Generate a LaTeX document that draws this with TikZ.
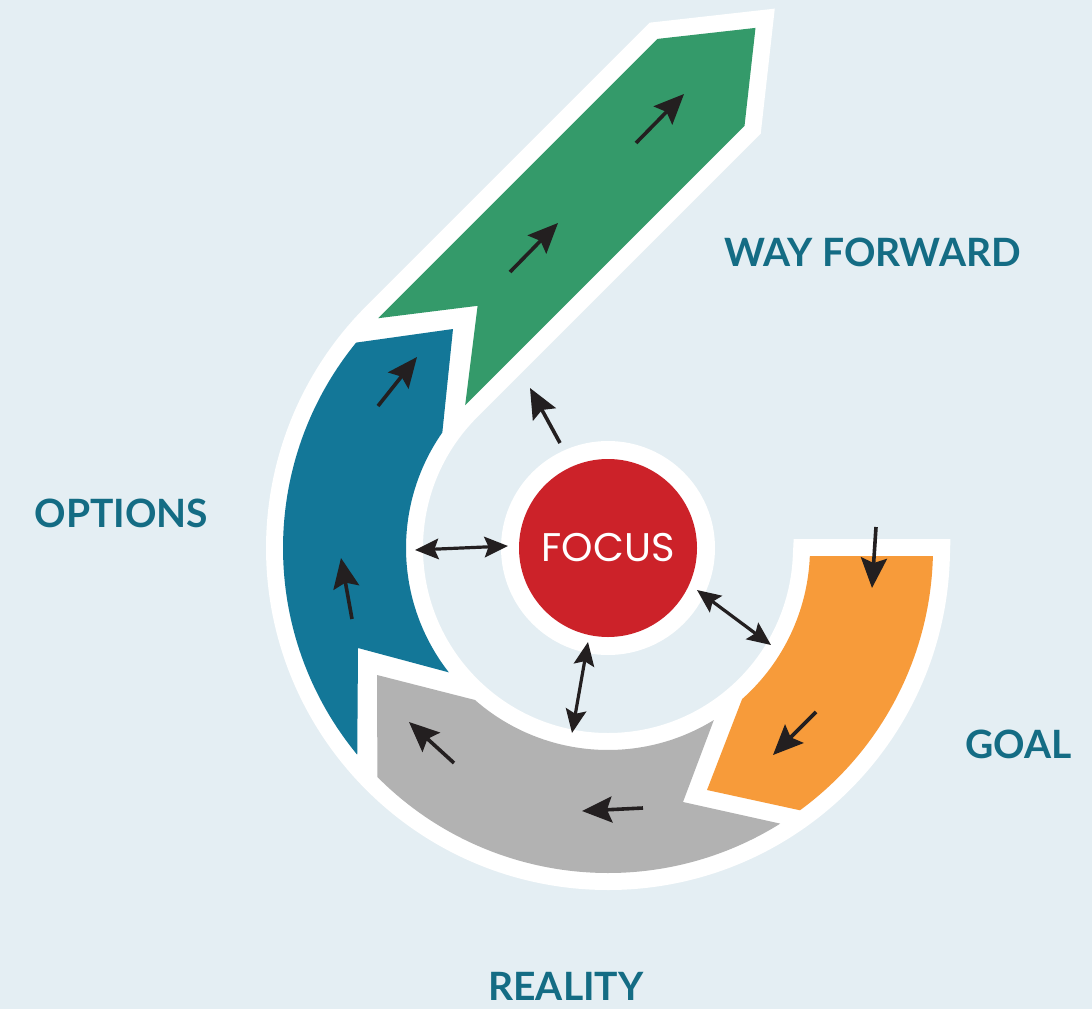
\documentclass[tikz,border=0pt]{standalone}
\usepackage{fontspec}
\setmainfont{Lato}
\newfontfamily\focusfont{Poppins}
\usetikzlibrary{arrows.meta}
\definecolor{bg}{RGB}{228,238,243}
\definecolor{cgreen}{RGB}{52,154,106}
\definecolor{cblue}{RGB}{19,119,152}
\definecolor{corange}{RGB}{247,155,58}
\definecolor{cgray}{RGB}{178,178,178}
\definecolor{cred}{RGB}{204,34,41}
\definecolor{cteal}{RGB}{20,108,132}
\definecolor{carrow}{RGB}{35,31,32}
\tikzset{
  bigtip/.tip={Stealth[length=30pt,width=26pt,inset=5pt]},
  smalltip/.tip={Stealth[length=23.5pt,width=20.5pt,inset=4pt]},
}
\begin{document}
\begin{tikzpicture}[x=1pt,y=1pt,yscale=-1,
  arr/.style={draw=carrow, line width=3.6pt, -bigtip},
  darr/.style={draw=carrow, line width=3.2pt, smalltip-smalltip},
  lbl/.style={text=cteal, font=\bfseries\fontsize{39}{39}\selectfont, anchor=base, inner sep=0pt}]
\fill[bg] (0,0) rectangle (1092,1009);
\useasboundingbox (0,0) rectangle (1092,1009);
\begin{scope}[shift={(608,548)}]
 \path[fill=white, draw=white, line width=34pt, line join=miter]
   (324.9,8) arc[start angle=1.41,end angle=225,radius=325]
   -- (49.5,-509.1) -- (147.5,-520.1) -- (136.5,-422.1) -- (225:202)
   arc[start angle=225,end angle=2.27,radius=202] -- cycle;
 \fill[corange] (201.8,8) -- (324.9,8) arc[start angle=1.41,end angle=53.8,radius=325]
   -- (99,242) -- (48.4:202) arc[start angle=48.4,end angle=2.27,radius=202] -- cycle;
 \fill[cgray] (58:325) arc[start angle=58,end angle=135.2,radius=325]
   -- (-231,127) -- (131.2:202) arc[start angle=131.2,end angle=58.4,radius=202]
   -- (75,254) -- cycle;
 \fill[cblue] (140.5:325) arc[start angle=140.5,end angle=219.2,radius=325]
   -- (-155,-219) -- (214.9:202) arc[start angle=214.9,end angle=142,radius=202]
   -- (-250,100) -- cycle;
 \fill[cgreen] (225:325) -- (49.5,-509.1) -- (147.5,-520.1) -- (136.5,-422.1)
   -- (225:202) -- (-130.4,-242.2) -- cycle;
 \fill[white] (0,0) circle[radius=107];
\end{scope}
\node[circle, fill=cred, minimum size=178pt, inner sep=0pt, text=white,
  font=\focusfont\fontsize{40}{40}\selectfont] (focus) at (608,548) {FOCUS};
% arrow end points
\coordinate (g1s) at (636,143); \coordinate (g1e) at (684,94);
\coordinate (g2s) at (510,272); \coordinate (g2e) at (558,223);
\coordinate (b1s) at (378,406); \coordinate (b1e) at (417,357);
\coordinate (b2s) at (352,619); \coordinate (b2e) at (341,558);
\coordinate (r1s) at (454,763); \coordinate (r1e) at (409,722);
\coordinate (r2s) at (643,808); \coordinate (r2e) at (582,811);
\coordinate (o1s) at (876,527); \coordinate (o1e) at (872,588);
\coordinate (o2s) at (816,712); \coordinate (o2e) at (773,755);
\coordinate (f1s) at (560,443); \coordinate (f1e) at (530,388);
\coordinate (d1a) at (415,550); \coordinate (d1b) at (508,546);
\coordinate (d2a) at (697,590); \coordinate (d2b) at (771,645);
\coordinate (d3a) at (588,642); \coordinate (d3b) at (572,733);
\draw[arr] (g1s) -- (g1e);
\draw[arr] (g2s) -- (g2e);
\draw[arr] (b1s) -- (b1e);
\draw[arr] (b2s) -- (b2e);
\draw[arr] (r1s) -- (r1e);
\draw[arr] (r2s) -- (r2e);
\draw[arr] (o1s) -- (o1e);
\draw[arr] (o2s) -- (o2e);
\draw[arr] (f1s) -- (f1e);
\draw[darr] (d1a) -- (d1b);
\draw[darr] (d2a) -- (d2b);
\draw[darr] (d3a) -- (d3b);
\node[lbl] (wf) at (872.5,266) {WAY FORWARD};
\node[lbl] (opt) at (121.5,527) {OPTIONS};
\node[lbl] (goal) at (1018.5,758) {GOAL};
\node[lbl] (real) at (566,1000) {REALITY};
\end{tikzpicture}
\end{document}
